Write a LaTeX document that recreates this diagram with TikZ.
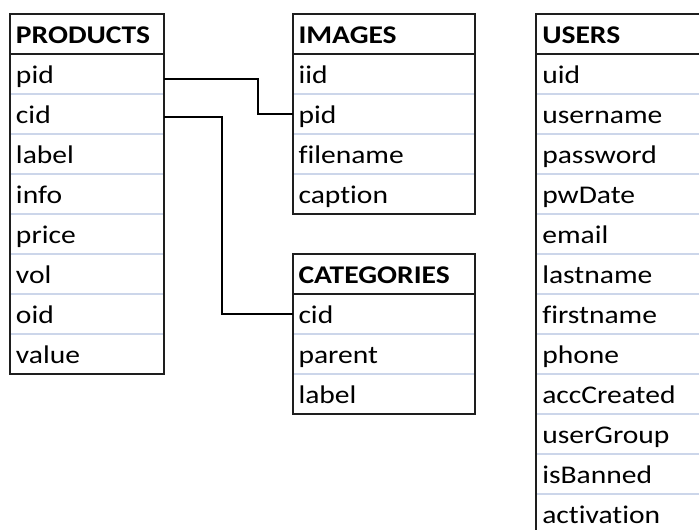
\documentclass[tikz,border=0pt]{standalone}
\usepackage{fontspec}
\setmainfont{Carlito}[FakeStretch=1.16, Ligatures=NoCommon]
\definecolor{bordercol}{HTML}{1E1E1E}
\definecolor{sepcol}{HTML}{CCD6EA}
\begin{document}
\begin{tikzpicture}[x=0.75pt,y=-0.75pt,
  cell/.style={rectangle, anchor=north west, draw=none, outer sep=0pt,
    minimum height=30pt, text height=14.25pt, text depth=0pt,
    inner ysep=0pt, inner xsep=4.5pt, align=left,
    font=\fontsize{19.1pt}{22pt}\selectfont, text=black},
  hdr/.style={cell, font=\fontsize{19.1pt}{22pt}\selectfont\bfseries},
  fld/.style={cell},
  box/.style={draw=bordercol, line width=1.5pt},
  sep/.style={draw=sepcol, line width=1pt},
  conn/.style={draw=black, line width=1.3pt}]
\useasboundingbox (0,0) rectangle (699,529);
\begin{scope}
\clip (0,0) rectangle (699,529);

% PRODUCTS
\node[hdr, text width=106.5pt] (P) at (10,14) {PRODUCTS};
\foreach \n [count=\i from 0] in {pid,cid,label,info,price,vol,oid,value}{
  \node[fld, text width=106.5pt] (P-\n) at (10,{54+40*\i}) {\n};
  \draw[sep] (P-\n.south west) -- (P-\n.south east);
}
\draw[box] (P.north west) rectangle (P-value.south east);
\draw[box] (P.south west) -- (P.south east);

% IMAGES
\node[hdr, text width=127.5pt] (I) at (292.5,14) {IMAGES};
\foreach \n [count=\i from 0] in {iid,pid,filename,caption}{
  \node[fld, text width=127.5pt] (I-\n) at (292.5,{54+40*\i}) {\n};
  \draw[sep] (I-\n.south west) -- (I-\n.south east);
}
\draw[box] (I.north west) rectangle (I-caption.south east);
\draw[box] (I.south west) -- (I.south east);

% CATEGORIES
\node[hdr, text width=127.5pt] (C) at (292.5,254) {CATEGORIES};
\foreach \n [count=\i from 0] in {cid,parent,label}{
  \node[fld, text width=127.5pt] (C-\n) at (292.5,{294+40*\i}) {\n};
  \draw[sep] (C-\n.south west) -- (C-\n.south east);
}
\draw[box] (C.north west) rectangle (C-label.south east);
\draw[box] (C.south west) -- (C.south east);

% USERS
\node[hdr, text width=126pt] (U) at (536.3,14) {USERS};
\foreach \n [count=\i from 0] in {uid,username,password,pwDate,email,lastname,firstname,phone,accCreated,userGroup,isBanned,activation}{
  \node[fld, text width=126pt] (U-\n) at (536.3,{54+40*\i}) {\n};
  \draw[sep] (U-\n.south west) -- (U-\n.south east);
}
\draw[box] (U.north west) rectangle (U-activation.south east);
\draw[box] (U.south west) -- (U.south east);

% connectors
\draw[conn] ([yshift=-3.75pt]P-pid.east) -- ++(94,0) |- (I-pid.west);
\draw[conn] ([yshift=-2pt]P-cid.east) -- ++(58,0) |- (C-cid.west);
\end{scope}
\end{tikzpicture}
\end{document}
